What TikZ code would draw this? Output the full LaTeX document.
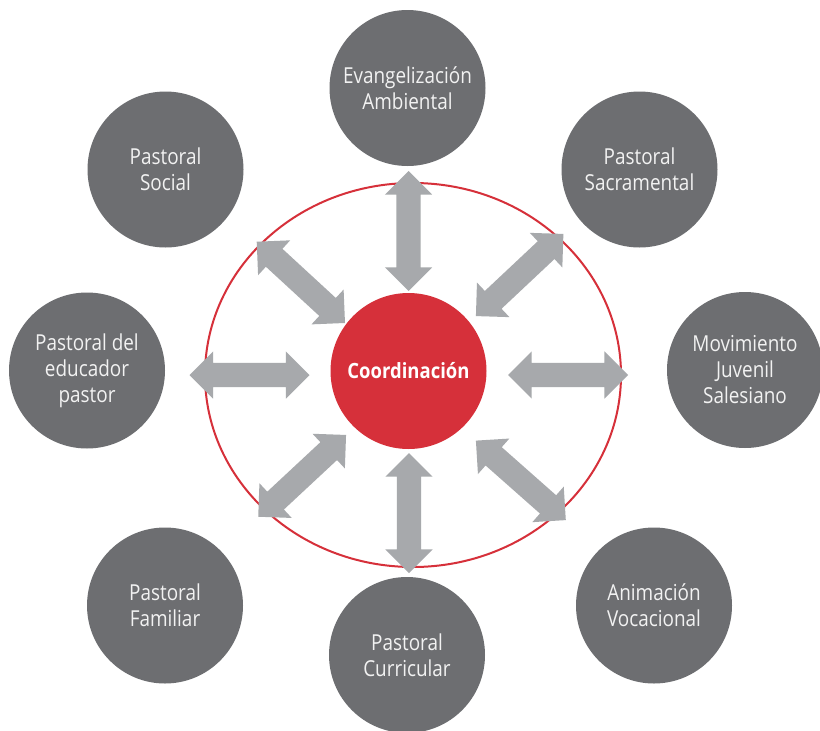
\documentclass[tikz,border=0pt]{standalone}
\usepackage{fontspec}
\setmainfont{Open Sans}
\newfontfamily\labfont{Open Sans}[FakeStretch=0.86]
\newfontfamily\hubfont{Open Sans}[FakeStretch=0.88]
\usetikzlibrary{shapes.arrows}
\definecolor{circgray}{HTML}{6D6E71}
\definecolor{arrgray}{HTML}{A7A9AC}
\definecolor{cred}{HTML}{D6303A}
\definecolor{labwhite}{HTML}{F2F2F2}
\begin{document}
\begin{tikzpicture}[x=1pt,y=-1pt,
  outer/.style={circle, fill=circgray, minimum size=156pt, inner sep=0pt,
    text=labwhite, align=center, font=\labfont\fontsize{22}{26}\selectfont},
  hub/.style={circle, fill=cred, minimum size=156pt, inner sep=0pt,
    text=white, font=\hubfont\bfseries\fontsize{21}{25}\selectfont},
  ring/.style={draw=cred, line width=2pt},
  darrow/.style={double arrow, fill=arrgray, minimum height=120pt,
    inner xsep=0pt, inner ysep=12pt, double arrow head extend=11.5pt, sloped}
]
\useasboundingbox (0,0) rectangle (820,731);
\fill[white] (0,0) rectangle (820,731);

% outer ring
\draw[ring] (413,375) ellipse [x radius=208, y radius=192];

% arrow end points
\coordinate (nA) at (408.5,171);   \coordinate (nB) at (408.5,291);
\coordinate (sA) at (409,453);     \coordinate (sB) at (409,573);
\coordinate (wA) at (189.5,375);   \coordinate (wB) at (309.5,375);
\coordinate (eA) at (508,375);     \coordinate (eB) at (628,375);
\coordinate (nwA) at (256.7,241.7); \coordinate (nwB) at (345,323);
\coordinate (neA) at (476,316);    \coordinate (neB) at (563.3,234);
\coordinate (swA) at (258.3,516.7); \coordinate (swB) at (346,435);
\coordinate (seA) at (476,440.7);  \coordinate (seB) at (565.7,520);

\foreach \d in {n,s,w,e,nw,ne,sw,se}
  \path (\d A) -- (\d B) node[darrow, midway] {};

% nodes
\node[hub] (coord) at (408.5,371) {Coordinación};
\node[outer] (evan) at (407.5,88) {Evangelización\\Ambiental};
\node[outer] (sacr) at (639.5,169.5) {Pastoral\\Sacramental};
\node[outer] (movi) at (745,370) {Movimiento\\Juvenil\\Salesiano};
\node[outer] (anim) at (654,605.5) {Animación\\Vocacional};
\node[outer] (curr) at (407,655) {Pastoral\\Curricular};
\node[outer] (fami) at (165,605.5) {Pastoral\\Familiar};
\node[outer] (educ) at (87,370.5) {Pastoral del\\educador\\pastor};
\node[outer] (soci) at (165.5,169.5) {Pastoral\\Social};
\end{tikzpicture}
\end{document}
